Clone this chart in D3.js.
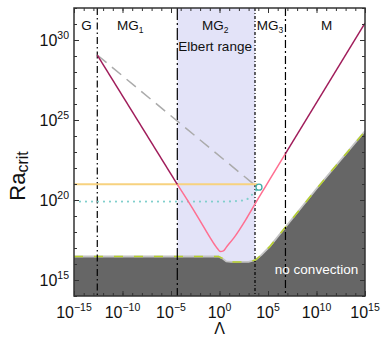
<!DOCTYPE html>
<html><head><meta charset="utf-8">
<script src="https://cdn.jsdelivr.net/npm/d3@7"></script>
<style>body{margin:0;background:#fff}svg{display:block;font-family:"Liberation Sans",Arial,Helvetica,sans-serif}</style>
</head><body><svg id="c" width="382" height="338"></svg>
<script>
// ---- data (log10 units) ----
const xMajor = [-15, -10, -5, 0, 5, 10, 15];
const yMajor = [15, 20, 25, 30];
const xMinor = d3.range(-15, 16, 1);
const yMinor = d3.range(14, 33, 1);
const regimeNames = ["G", "MG", "MG", "MG", "M"];
const regimeSubs = ["", "1", "2", "3", ""];
const regimeAt = [-13.7, -9.2, -0.45, 5.2, 11.05];
const boundaries = [-12.6, -4.35, 3.66, 6.8];
const elbertRange = [-4.35, 3.66];
const asymLeft = [[-12.6, 29.06], [-4.35, 20.98]];
const asymRight = [[6.8, 22.9], [15, 31.06]];
const raCurve = [[-4.35, 20.98], [-3, 19.7], [-2, 18.7], [-1, 17.68], [-0.5, 17.2], [-0.2, 16.95], [0.1, 16.78], [0.4, 16.82], [0.74, 17.08], [1.5, 17.65], [2.8, 18.86], [4, 20.1], [5.2, 21.3], [6.8, 22.9]];
const grayDashed = [[-12.6, 29.06], [3.9, 20.8]];
const yellowLine = [[-15, 20.98], [3.9, 20.98]];
const tealDotted = [[-15, 19.9], [-5, 19.9], [0, 19.9], [2.6, 19.98], [3.3, 20.3], [3.85, 20.65]];
const tealPoint = [4.07, 20.8];
const noConvEdge = [[-15, 16.47], [-0.1, 16.47], [0.3, 16.35], [0.7, 16.16], [1.2, 16.13], [3.0, 16.13], [3.7, 16.25], [4.3, 16.55], [5.2, 17.1], [7, 18.45], [10, 20.7], [15, 24.3]];

// ---- layout ----
const L = 74, R = 365, T = 8, B = 296;
const svg = d3.select("#c");
const x = d3.scaleLog().domain([1e-15, 1e15]).range([L, R]);
const y = d3.scaleLog().domain([1e14, 1e32]).range([B, T]);
const P = v => Math.pow(10, v);
const line = d3.line().x(d => x(P(d[0]))).y(d => y(P(d[1])));

const defs = svg.append("defs");
defs.append("clipPath").attr("id", "clip").append("rect").attr("x", L).attr("y", T).attr("width", R - L).attr("height", B - T);
const g = svg.append("g").attr("clip-path", "url(#clip)");

// Elbert range band
g.append("rect").attr("x", x(P(elbertRange[0]))).attr("y", T)
  .attr("width", x(P(elbertRange[1])) - x(P(elbertRange[0]))).attr("height", B - T)
  .attr("fill", "#e3e3f8");

// no convection region
const area = d3.area().x(d => x(P(d[0]))).y0(B + 5).y1(d => y(P(d[1])));
g.append("path").datum(noConvEdge).attr("d", area).attr("fill", "#666666");
g.append("path").datum(noConvEdge).attr("d", line).attr("fill", "none").attr("stroke", "#c4c4c4").attr("stroke-width", 1.8);
g.append("path").datum(noConvEdge).attr("d", line).attr("fill", "none").attr("stroke", "#b7d12b").attr("stroke-width", 1.5).attr("stroke-dasharray", "9,11");

// regime boundaries
const dashes = ["7,3,1.5,3", "12,3,2,3", "3,2,1,2", "8,3,2,3"];
boundaries.forEach((b, i) => {
  g.append("line").attr("x1", x(P(b))).attr("x2", x(P(b))).attr("y1", T).attr("y2", B)
    .attr("stroke", "#000").attr("stroke-width", 1.2).attr("stroke-dasharray", dashes[i]);
});

// curves
g.append("path").datum(grayDashed).attr("d", line).attr("fill", "none").attr("stroke", "#ababab").attr("stroke-width", 1.5).attr("stroke-dasharray", "12,7");
g.append("path").datum(yellowLine).attr("d", line).attr("fill", "none").attr("stroke", "#f7d27f").attr("stroke-width", 2);
g.append("path").datum(tealDotted).attr("d", d3.line().curve(d3.curveMonotoneX).x(d => x(P(d[0]))).y(d => y(P(d[1]))))
  .attr("fill", "none").attr("stroke", "#80cfcc").attr("stroke-width", 2.2).attr("stroke-linecap", "round").attr("stroke-dasharray", "0,6");
g.append("path").datum(raCurve).attr("d", d3.line().curve(d3.curveMonotoneX).x(d => x(P(d[0]))).y(d => y(P(d[1]))))
  .attr("fill", "none").attr("stroke", "#ff6f91").attr("stroke-width", 1.5);
g.append("path").datum(asymLeft).attr("d", line).attr("fill", "none").attr("stroke", "#a01c5a").attr("stroke-width", 1.5);
g.append("path").datum(asymRight).attr("d", line).attr("fill", "none").attr("stroke", "#a01c5a").attr("stroke-width", 1.5);
g.append("circle").attr("cx", x(P(tealPoint[0]))).attr("cy", y(P(tealPoint[1]))).attr("r", 3)
  .attr("fill", "none").attr("stroke", "#3fada6").attr("stroke-width", 1.3);

// regime labels
regimeNames.forEach((n, i) => {
  const t = svg.append("text").attr("x", x(P(regimeAt[i]))).attr("y", 30).attr("text-anchor", "middle")
    .attr("font-size", 13.5).attr("fill", "#111").text(n);
  if (regimeSubs[i]) t.append("tspan").attr("font-size", 8.5).attr("dy", 3).text(regimeSubs[i]);
});
svg.append("text").attr("x", x(P(regimeAt[2]))).attr("y", 51).attr("text-anchor", "middle")
  .attr("font-size", 13.5).attr("fill", "#111").text("Elbert range");
svg.append("text").attr("x", x(P(10))).attr("y", 274).attr("text-anchor", "middle")
  .attr("font-size", 13.5).attr("fill", "#fff").text("no convection");

// axes (ticks inward, mirrored)
const ax = svg.append("g");
function styleAxis(sel) { sel.select(".domain").remove(); sel.selectAll("line").attr("stroke", "#333").attr("stroke-width", 1); }
ax.append("g").attr("transform", `translate(0,${B})`).call(d3.axisBottom(x).tickValues(xMinor.map(P)).tickSize(-3).tickFormat("")).call(styleAxis);
ax.append("g").attr("transform", `translate(0,${B})`).call(d3.axisBottom(x).tickValues(xMajor.map(P)).tickSize(-5).tickFormat("")).call(styleAxis);
ax.append("g").attr("transform", `translate(0,${T})`).call(d3.axisTop(x).tickValues(xMinor.map(P)).tickSize(-3).tickFormat("")).call(styleAxis);
ax.append("g").attr("transform", `translate(0,${T})`).call(d3.axisTop(x).tickValues(xMajor.map(P)).tickSize(-5).tickFormat("")).call(styleAxis);
ax.append("g").attr("transform", `translate(${L},0)`).call(d3.axisLeft(y).tickValues(yMinor.map(P)).tickSize(-3).tickFormat("")).call(styleAxis);
ax.append("g").attr("transform", `translate(${L},0)`).call(d3.axisLeft(y).tickValues(yMajor.map(P)).tickSize(-5).tickFormat("")).call(styleAxis);
ax.append("g").attr("transform", `translate(${R},0)`).call(d3.axisRight(y).tickValues(yMinor.map(P)).tickSize(-3).tickFormat("")).call(styleAxis);
ax.append("g").attr("transform", `translate(${R},0)`).call(d3.axisRight(y).tickValues(yMajor.map(P)).tickSize(-5).tickFormat("")).call(styleAxis);
svg.append("rect").attr("x", L).attr("y", T).attr("width", R - L).attr("height", B - T)
  .attr("fill", "none").attr("stroke", "#333").attr("stroke-width", 1.5);

// tick labels
const fmtExp = e => (e < 0 ? "\u2212" + Math.abs(e) : String(e));
xMajor.forEach(e => {
  const t = svg.append("text").attr("x", x(P(e))).attr("y", 318).attr("text-anchor", "middle").attr("font-size", 16).attr("fill", "#111");
  t.append("tspan").text("10");
  t.append("tspan").attr("font-size", 10.5).attr("dy", -7).text(fmtExp(e));
});
yMajor.forEach(e => {
  const t = svg.append("text").attr("x", 69).attr("y", y(P(e)) + 6).attr("text-anchor", "end").attr("font-size", 16).attr("fill", "#111");
  t.append("tspan").text("10");
  t.append("tspan").attr("font-size", 10.5).attr("dy", -7).text(fmtExp(e));
});

// axis titles
svg.append("text").attr("x", x(P(0))).attr("y", 334).attr("text-anchor", "middle").attr("font-size", 16).attr("fill", "#111").text("\u039B");
const yt = svg.append("text").attr("transform", `translate(25,${(T + B) / 2 + 24}) rotate(-90)`).attr("text-anchor", "middle").attr("fill", "#111");
yt.append("tspan").attr("font-size", 22).text("Ra");
yt.append("tspan").attr("font-size", 16).attr("dy", 3).text("crit");
</script></body></html>
